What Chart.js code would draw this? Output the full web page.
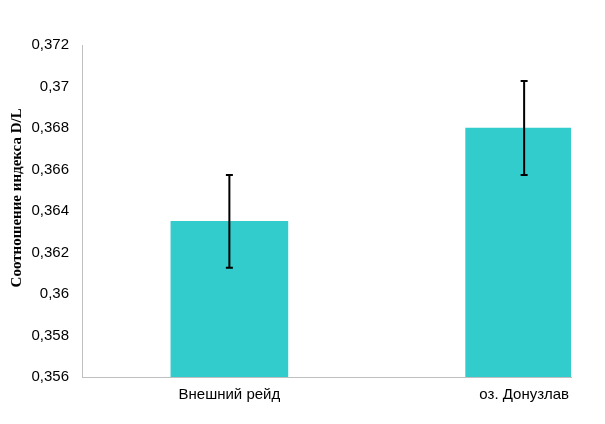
<!DOCTYPE html>
<html>
<head>
<meta charset="utf-8">
<script src="https://cdn.jsdelivr.net/npm/chart.js@4/dist/chart.umd.min.js"></script>
<style>
  html, body { margin: 0; padding: 0; background: #fff; }
  #wrap { width: 605px; height: 424px; }
</style>
</head>
<body>
<div id="wrap"><canvas id="c" width="605" height="424"></canvas></div>
<script>
const categories = ['Внешний рейд', 'оз. Донузлав'];
const meanValues = [0.3635, 0.3680];
const errorValues = [0.00224, 0.00226];
const yTickValues = [0.356, 0.358, 0.360, 0.362, 0.364, 0.366, 0.368, 0.370, 0.372];
const yAxisTitle = 'Соотношение индекса D/L';

const errorBars = {
  id: 'errorBars',
  afterDatasetsDraw(chart) {
    const ctx = chart.ctx;
    const xs = chart.scales.x, ys = chart.scales.y;
    ctx.save();
    ctx.strokeStyle = '#000';
    ctx.lineWidth = 2;
    meanValues.forEach((v, i) => {
      const x = xs.getPixelForValue(i);
      const yT = ys.getPixelForValue(v + errorValues[i]);
      const yB = ys.getPixelForValue(v - errorValues[i]);
      ctx.beginPath();
      ctx.moveTo(x, yT); ctx.lineTo(x, yB);
      ctx.moveTo(x - 3.5, yT); ctx.lineTo(x + 3.5, yT);
      ctx.moveTo(x - 3.5, yB); ctx.lineTo(x + 3.5, yB);
      ctx.stroke();
    });
    ctx.restore();
  }
};

new Chart(document.getElementById('c'), {
  type: 'bar',
  data: {
    datasets: [{
      data: categories.map((c, i) => ({ x: i, y: meanValues[i] })),
      backgroundColor: '#33CCCC',
      borderWidth: 0,
      barThickness: 117
    }]
  },
  options: {
    responsive: false,
    animation: false,
    layout: { padding: { left: 0, right: 34, top: 45, bottom: 0 } },
    plugins: { legend: { display: false }, tooltip: { enabled: false } },
    scales: {
      x: {
        type: 'linear',
        offset: false,
        bounds: 'data',
        min: -0.5,
        max: 1.159,
        grid: { display: false, drawTicks: false, offset: false },
        border: { display: true, color: '#bfbfbf', width: 1 },
        afterBuildTicks(scale) { scale.ticks = categories.map((c, i) => ({ value: i })); },
        afterFit(scale) { scale.height = 47; },
        ticks: {
          autoSkip: false,
          maxRotation: 0,
          padding: 9,
          color: '#000',
          font: { family: 'Liberation Sans, Arial, sans-serif', size: 15 },
          callback: (v) => categories[v] ?? ''
        }
      },
      y: {
        min: 0.356,
        max: 0.372,
        grid: { display: false, drawTicks: false },
        border: { display: true, color: '#bfbfbf', width: 1 },
        afterBuildTicks(scale) { scale.ticks = yTickValues.map(v => ({ value: v })); },
        afterFit(scale) { scale.width = 82; },
        ticks: {
          padding: 13,
          color: '#000',
          font: { family: 'Liberation Sans, Arial, sans-serif', size: 15 },
          callback: (v) => parseFloat(Number(v).toFixed(3)).toString().replace('.', ',')
        },
        title: {
          display: true,
          text: ' '.repeat(7) + yAxisTitle,
          color: '#000',
          padding: { top: 8, bottom: 4 },
          font: { family: 'Liberation Serif, Times New Roman, serif', size: 15, weight: 'bold' }
        }
      }
    }
  },
  plugins: [errorBars]
});
</script>
</body>
</html>
